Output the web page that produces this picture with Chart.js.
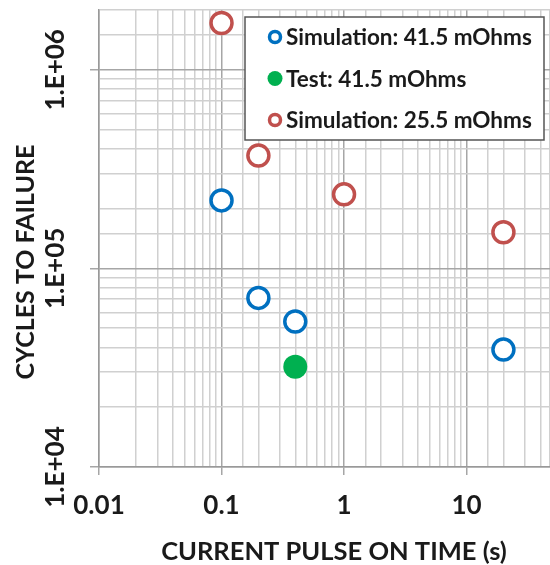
<!DOCTYPE html>
<html>
<head>
<meta charset="utf-8">
<script src="https://cdn.jsdelivr.net/npm/chart.js@4.4.1/dist/chart.umd.min.js"></script>
<style>
  html, body { margin: 0; padding: 0; background: #fff; }
  #wrap { width: 550px; height: 565px; }
</style>
</head>
<body>
<div id="wrap"><canvas id="chart"></canvas></div>
<script>
// dados
const seriesNames = ['Simulation: 41.5 mOhms', 'Test: 41.5 mOhms', 'Simulation: 25.5 mOhms'];
const sim415Time = [0.1, 0.2, 0.4, 20];
const sim415Cycles = [220000, 71000, 54000, 39000];
const testTime = [0.4];
const testCycles = [32000];
const sim255Time = [0.1, 0.2, 1, 20];
const sim255Cycles = [1720000, 370000, 236000, 152000];
const xTickValues = [0.01, 0.1, 1, 10];
const xTickLabels = ['0.01', '0.1', '1', '10'];
const yTickValues = [1e4, 1e5, 1e6];
const yTickLabels = ['1.E+04', '1.E+05', '1.E+06'];
const xTitle = 'CURRENT PULSE ON TIME (s)';
const yTitle = 'CYCLES TO FAILURE';

const FONT = 'Lato';
const isDecade = v => Math.abs(Math.log10(v) - Math.round(Math.log10(v))) < 1e-6;

function toPoints(xs, ys) {
    return xs.map((x, i) => ({ x: x, y: ys[i] }));
}

function findLabel(values, labels, v) {
    const i = values.findIndex(t => Math.abs(t - v) / t < 1e-6);
    return i >= 0 ? labels[i] : '';
}

// legenda e titulos desenhados dentro do grafico
const extras = {
    id: 'extras',
    afterDraw(chart) {
        const ctx = chart.ctx;
        const ca = chart.chartArea;
        ctx.save();
        // titulos dos eixos
        ctx.fillStyle = '#1a1a1a';
        ctx.textAlign = 'center';
        ctx.textBaseline = 'middle';
        ctx.font = 'bold 25.5px ' + FONT;
        ctx.fillText(xTitle, ca.left + 235, 552);
        ctx.font = 'bold 25px ' + FONT;
        ctx.translate(26, ca.top + 252);
        ctx.rotate(-Math.PI / 2);
        ctx.fillText(yTitle, 0, 0);
        ctx.restore();

        // caixa da legenda
        ctx.save();
        const bx = 245, by = 17, bw = 299, bh = 123;
        ctx.fillStyle = '#fff';
        ctx.fillRect(bx, by, bw, bh);
        ctx.strokeStyle = '#555';
        ctx.lineWidth = 1.5;
        ctx.strokeRect(bx, by, bw, bh);
        ctx.font = 'bold 22.5px ' + FONT;
        ctx.textAlign = 'left';
        ctx.textBaseline = 'middle';
        chart.data.datasets.forEach((ds, i) => {
            const y = 37 + i * 41.5;
            const hollow = ds.pointBackgroundColor === '#fff';
            ctx.beginPath();
            ctx.arc(275, y, hollow ? 5.5 : 7.5, 0, Math.PI * 2);
            if (hollow) {
                ctx.strokeStyle = ds.pointBorderColor;
                ctx.lineWidth = 3.5;
                ctx.stroke();
            } else {
                ctx.fillStyle = ds.pointBackgroundColor;
                ctx.fill();
            }
            ctx.fillStyle = '#1a1a1a';
            ctx.fillText(ds.label, 286, y + 1);
        });
        ctx.restore();
    }
};

const ctx = document.getElementById('chart').getContext('2d');
new Chart(ctx, {
    type: 'scatter',
    data: {
        datasets: [
            {
                label: seriesNames[0],
                data: toPoints(sim415Time, sim415Cycles),
                pointRadius: 10.5,
                pointBorderWidth: 3.5,
                pointBorderColor: '#0070C0',
                pointBackgroundColor: '#fff'
            },
            {
                label: seriesNames[1],
                data: toPoints(testTime, testCycles),
                pointRadius: 12,
                pointBorderWidth: 0,
                pointBorderColor: '#00B050',
                pointBackgroundColor: '#00B050'
            },
            {
                label: seriesNames[2],
                data: toPoints(sim255Time, sim255Cycles),
                pointRadius: 10.5,
                pointBorderWidth: 3.5,
                pointBorderColor: '#C0504D',
                pointBackgroundColor: '#fff'
            }
        ]
    },
    options: {
        responsive: true,
        maintainAspectRatio: false,
        animation: false,
        layout: { autoPadding: false, padding: { top: 10, right: 0, left: 0, bottom: 0 } },
        plugins: {
            legend: { display: false },
            tooltip: { enabled: false }
        },
        scales: {
            x: {
                type: 'logarithmic',
                min: 0.01,
                max: 48,
                afterFit: s => { s.height = 98; s.paddingLeft = 0; s.paddingRight = 0; },
                border: { color: '#999', width: 1.5 },
                grid: {
                    color: c => c.tick && isDecade(c.tick.value) ? '#a6a6a6' : '#d0d0d0',
                    lineWidth: 1.5,
                    tickLength: 8,
                    tickColor: c => c.tick && isDecade(c.tick.value) ? '#a6a6a6' : 'rgba(0,0,0,0)'
                },
                ticks: {
                    autoSkip: false,
                    maxRotation: 0,
                    padding: 15,
                    color: '#1a1a1a',
                    font: { family: FONT, size: 26, weight: 'bold' },
                    callback: v => findLabel(xTickValues, xTickLabels, v)
                }
            },
            y: {
                type: 'logarithmic',
                min: 1e4,
                max: 2e6,
                afterFit: s => { s.width = 99; s.paddingTop = 0; s.paddingBottom = 0; },
                border: { color: '#999', width: 1.5 },
                grid: {
                    color: c => c.tick && isDecade(c.tick.value) ? '#a6a6a6' : '#d0d0d0',
                    lineWidth: 1.5,
                    tickLength: 9,
                    tickColor: c => c.tick && isDecade(c.tick.value) ? '#a6a6a6' : 'rgba(0,0,0,0)'
                },
                ticks: {
                    autoSkip: false,
                    minRotation: 90,
                    maxRotation: 90,
                    crossAlign: 'center',
                    padding: -6,
                    color: '#1a1a1a',
                    font: { family: FONT, size: 26, weight: 'bold' },
                    callback: v => findLabel(yTickValues, yTickLabels, v)
                }
            }
        }
    },
    plugins: [extras]
});
</script>
</body>
</html>
